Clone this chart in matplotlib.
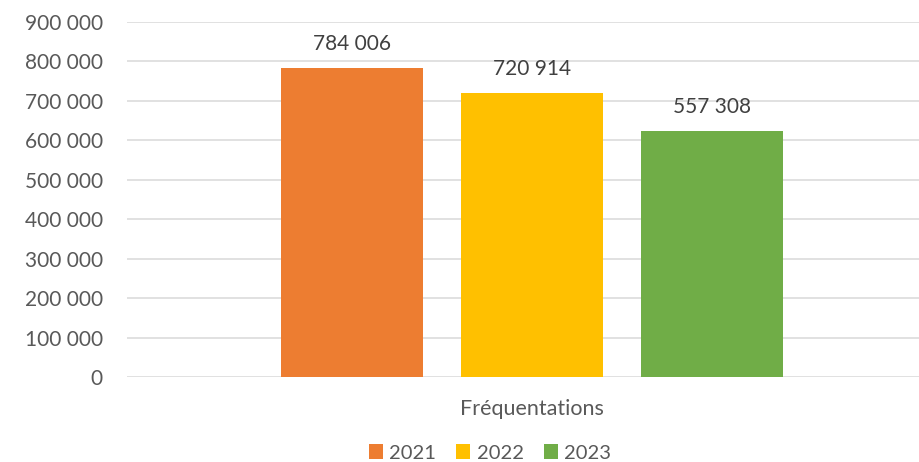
import matplotlib.pyplot as plt
from matplotlib.ticker import FuncFormatter

plt.rcParams['font.family'] = ['Lato', 'DejaVu Sans']

# data
category = "Fréquentations"
years = ["2021", "2022", "2023"]
heights = [784006, 720914, 624000]   # bar heights as drawn
labels = ["784 006", "720 914", "557 308"]  # data labels as printed
colors = ["#ED7D31", "#FFC000", "#70AD47"]
yticks = list(range(0, 900001, 100000))

fig = plt.figure(figsize=(9.2, 4.62), dpi=100)
ax = fig.add_axes([127 / 920, 1 - 377 / 462, 793 / 920, 355 / 462])

offsets = [-0.227, 0.0, 0.227]
width = 0.179
for i, yr in enumerate(years):
    ax.bar(offsets[i], heights[i], width=width, color=colors[i], label=yr, zorder=3)
    ax.annotate(labels[i], (offsets[i], heights[i]), xytext=(0, 10), textcoords="offset points",
                ha="center", va="bottom", fontsize=15, color="#404040")

ax.set_xlim(-0.511, 0.489)
ax.set_ylim(0, 900000)
ax.set_yticks(yticks)
ax.yaxis.set_major_formatter(FuncFormatter(lambda v, p: f"{int(v):,}".replace(",", " ")))
ax.tick_params(axis="y", length=0, pad=17.5, labelsize=15, labelcolor="#595959")
ax.set_xticks([])
ax.grid(axis="y", color="#D9D9D9", linewidth=1.1, zorder=0)
for s in ax.spines.values():
    s.set_visible(False)

ax.text(0, -0.09, category, transform=ax.get_xaxis_transform(), ha="center", va="center",
        fontsize=15.5, color="#595959")

fig.legend(loc="center", bbox_to_anchor=(490 / 920, 1 - 453 / 462), ncol=3, frameon=False,
           fontsize=14.5, handlelength=0.7, handleheight=0.7, handletextpad=0.3,
           columnspacing=1.0, labelcolor="#595959")

fig.savefig("out.png", dpi=100)
